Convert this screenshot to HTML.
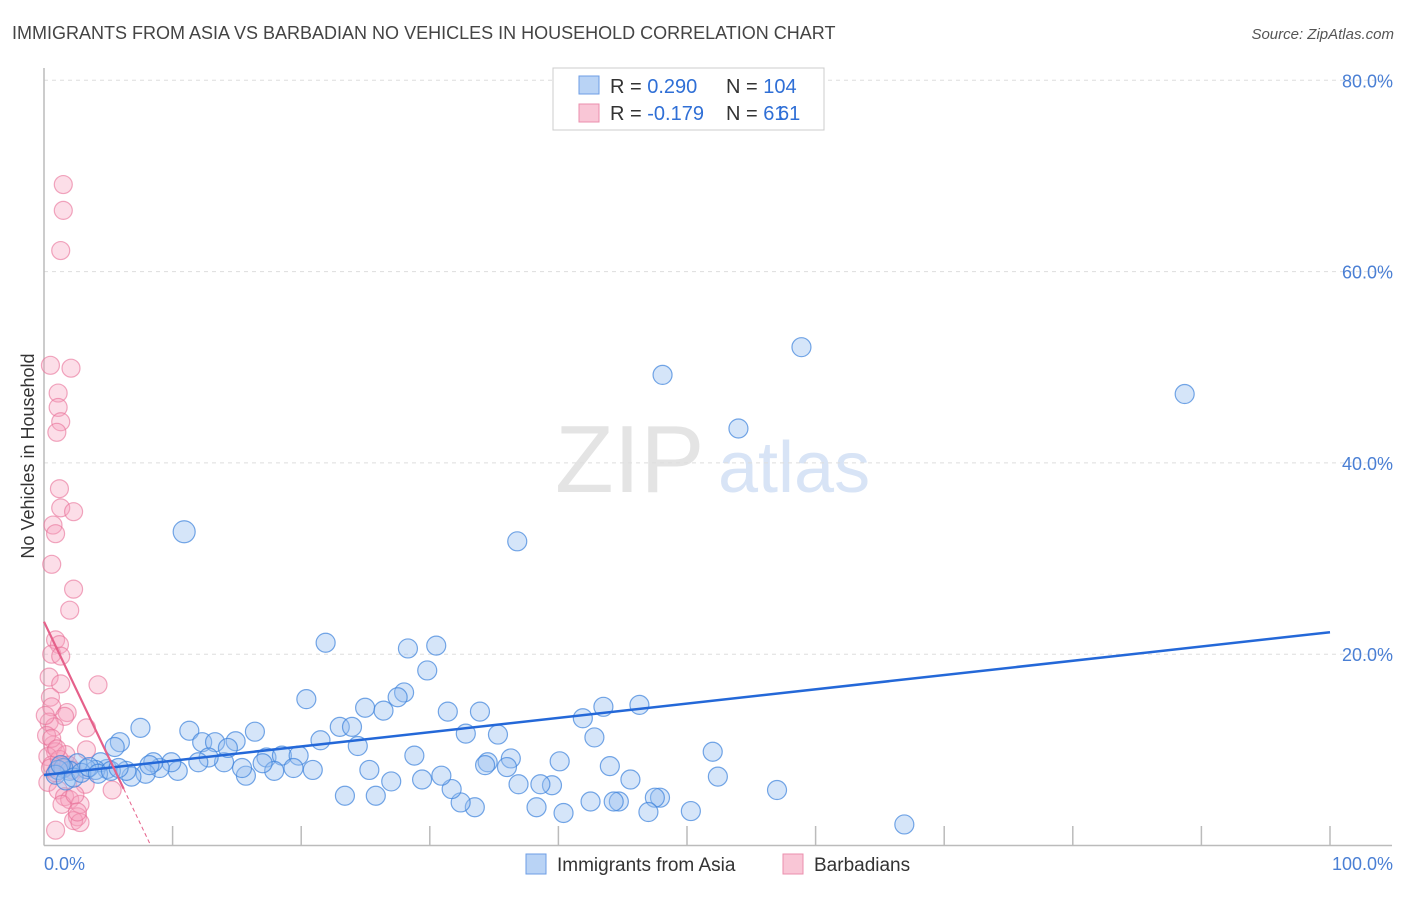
<!DOCTYPE html>
<html><head><meta charset="utf-8"><style>
body{margin:0;background:#fff;font-family:"Liberation Sans",sans-serif;}
svg text{font-family:"Liberation Sans",sans-serif;}
</style></head><body>
<svg id="chart" width="1406" height="892" xmlns="http://www.w3.org/2000/svg">
<text x="12" y="39" font-size="18" fill="#444">IMMIGRANTS FROM ASIA VS BARBADIAN NO VEHICLES IN HOUSEHOLD CORRELATION CHART</text>
<text x="1394" y="39" font-size="15" fill="#555" font-style="italic" text-anchor="end">Source: ZipAtlas.com</text>
<text transform="translate(34,456) rotate(-90)" font-size="18" fill="#333" text-anchor="middle">No Vehicles in Household</text>
<text x="555" y="492" font-size="96" fill="#e4e4e4" font-family="Liberation Serif">ZIP</text>
<text x="718" y="492" font-size="72" fill="#d8e4f6">atlas</text>
<g id="grid"></g><g id="axes"></g><g id="marks"></g><g id="lines"></g>
<g>
<rect x="553" y="68" width="271" height="62" fill="#fff" stroke="#ccc"/>
<rect x="579" y="76" width="20" height="18" fill="#b9d3f5" stroke="#6d9ee5"/>
<rect x="579" y="104" width="20" height="18" fill="#f9c6d6" stroke="#eb8fad"/>
<text x="610" y="93" font-size="20" fill="#333">R = <tspan fill="#2f6fd6">0.290</tspan></text>
<text x="726" y="93" font-size="20" fill="#333">N = <tspan fill="#2f6fd6">104</tspan></text>
<text x="610" y="120" font-size="20" fill="#333">R = <tspan fill="#2f6fd6">-0.179</tspan></text>
<text x="726" y="120" font-size="20" fill="#333">N = <tspan fill="#2f6fd6">  61</tspan></text>
<text x="778" y="120" font-size="20" fill="#2f6fd6">61</text>
</g>
<g>
<rect x="526" y="854" width="20" height="20" fill="#b9d3f5" stroke="#6d9ee5"/>
<text x="557" y="871" font-size="19" fill="#333">Immigrants from Asia</text>
<rect x="783" y="854" width="20" height="20" fill="#f9c6d6" stroke="#eb8fad"/>
<text x="814" y="871" font-size="19" fill="#333">Barbadians</text>
</g>
</svg>
<script>
const yTicks=[20,40,60,80];
const yTickLabels=["20.0%","40.0%","60.0%","80.0%"];
const xTickLabels=["0.0%","100.0%"];
const asiaX=[10.9,21.9,28.3,30.5,29.8,28,27.5,20.4,24.97,26.4,31.4,33.9,36.8,48.1,58.9,54.0,88.7,7.5,5.9,11.3,12.3,13.3,14.9,16.4,17.3,18.5,19.8,21.5,23.0,23.95,24.4,32.8,35.3,41.9,43.5,46.3,42.8,28.8,34.5,36.3,34.3,36.0,40.1,44.0,52.0,52.4,57.0,66.9,50.3,47.9,47.5,47.0,45.6,44.7,44.3,42.5,40.4,39.5,38.6,38.3,36.9,33.5,32.4,31.7,30.9,29.4,27.0,25.8,25.3,23.4,20.9,19.4,17.9,17.0,15.7,15.4,14.0,12.8,10.4,9.9,9.0,8.5,7.9,6.8,6.4,5.5,4.9,4.4,4.0,3.3,2.6,2.0,1.5,1.1,0.9,1.3,1.7,2.3,2.9,3.5,4.2,5.2,5.8,8.2,12.0,14.3];
const asiaY=[32.8,21.2,20.6,20.9,18.3,16.0,15.5,15.3,14.4,14.1,14.0,14.0,31.8,49.2,52.1,43.6,47.2,12.3,10.8,12.0,10.8,10.8,10.9,11.9,9.2,9.4,9.4,11.0,12.4,12.4,10.4,11.7,11.6,13.3,14.5,14.7,11.3,9.4,8.7,9.1,8.4,8.2,8.8,8.3,9.8,7.2,5.8,2.2,3.6,5.0,5.0,3.5,6.9,4.6,4.6,4.6,3.4,6.3,6.4,4.0,6.4,4.0,4.5,5.9,7.3,6.9,6.7,5.2,7.9,5.2,7.9,8.1,7.8,8.6,7.3,8.1,8.7,9.2,7.8,8.7,8.1,8.7,7.5,7.2,7.8,10.3,8.0,8.7,7.9,8.0,8.6,7.8,8.1,7.9,7.4,8.4,6.8,7.1,7.6,8.2,7.5,7.8,8.1,8.4,8.7,10.2];
const barbX=[1.5,1.5,1.3,0.5,2.1,1.1,1.1,1.3,1.0,1.2,1.3,2.3,0.7,0.9,0.6,2.3,2.0,0.9,1.2,0.6,1.3,0.4,1.3,4.2,0.5,0.6,1.8,1.6,0.4,0.8,3.3,0.7,0.9,3.3,0.3,0.6,1.5,2.2,0.3,1.1,1.6,2.0,3.2,2.8,1.4,2.6,2.3,2.8,0.9,5.3,1.7,0.5,0.9,0.2,1.2,1.9,0.1,0.6,1.0,2.4,2.6];
const barbY=[69.1,66.4,62.2,50.2,49.9,47.3,45.8,44.3,43.2,37.3,35.3,34.9,33.5,32.6,29.4,26.8,24.6,21.5,21.0,20.0,19.8,17.6,16.9,16.8,15.5,14.5,13.9,13.5,12.9,12.4,12.3,10.5,9.8,10.0,9.3,8.4,8.1,7.9,6.6,5.8,5.1,4.8,6.4,4.3,4.3,3.0,2.6,2.4,1.6,5.8,9.5,8.1,7.6,11.5,9.0,8.4,13.6,11.2,10.1,5.3,3.5];
const asiaFit=[7.37,22.3];
const barbFit=[23.4,-2.82];
const NS="http://www.w3.org/2000/svg";
function sx(v){return 44+v*12.86;}
function sy(v){return 845.5-v*9.565;}
function mk(tag,attrs,parent){const e=document.createElementNS(NS,tag);for(const k in attrs)e.setAttribute(k,attrs[k]);parent.appendChild(e);return e;}
const grid=document.getElementById('grid'),axes=document.getElementById('axes'),marks=document.getElementById('marks'),lines=document.getElementById('lines');
yTicks.forEach((t,i)=>{
 const l=mk('line',{x1:44,x2:1392,y1:sy(t),y2:sy(t),stroke:'#ddd','stroke-dasharray':'4,4'},grid);
 
 
 const tx=mk('text',{x:1393,y:sy(t)+7,'font-size':18,fill:'#4a7fd4','text-anchor':'end'},axes);
 tx.textContent=yTickLabels[i];
 
 
});
const ya=mk('line',{x1:44,x2:44,y1:68,y2:845.5,stroke:'#bbb','stroke-width':1.5},axes);


const xa=mk('line',{x1:44,x2:1392,y1:845.5,y2:845.5,stroke:'#bbb','stroke-width':1.5},axes);


for(let i=1;i<=10;i++){
 const t=mk('line',{x1:sx(i*10),x2:sx(i*10),y1:826,y2:845.5,stroke:'#bbb','stroke-width':1.5},axes);
 
 
}
const xl0=mk('text',{x:44,y:870,'font-size':18,fill:'#4a7fd4'},axes);xl0.textContent=xTickLabels[0];


const xl1=mk('text',{x:1393,y:870,'font-size':18,fill:'#4a7fd4','text-anchor':'end'},axes);xl1.textContent=xTickLabels[1];


barbX.forEach((x,i)=>{
 const c=mk('circle',{cx:sx(x),cy:sy(barbY[i]),r:9,fill:'rgba(246,160,188,0.35)',stroke:'rgba(232,110,150,0.6)','stroke-width':1.2},marks);
 
 
});
asiaX.forEach((x,i)=>{
 const c=mk('circle',{cx:sx(x),cy:sy(asiaY[i]),r:i===0?11:9.5,fill:'rgba(150,190,240,0.4)',stroke:'rgba(60,130,220,0.7)','stroke-width':1.2},marks);
 
 
});
const bl=mk('line',{x1:sx(0),y1:sy(asiaFit[0]),x2:sx(100),y2:sy(asiaFit[1]),stroke:'#2468d8','stroke-width':2.5},lines);


const pf=x=>barbFit[0]+barbFit[1]*x;
const pl=mk('line',{x1:sx(0),y1:sy(pf(0)),x2:sx(6.2),y2:sy(pf(6.2)),stroke:'#e5608a','stroke-width':2.2},lines);


const pd=mk('line',{x1:sx(6.2),y1:sy(pf(6.2)),x2:sx(8.3),y2:sy(pf(8.3)),stroke:'#e5608a','stroke-width':1,'stroke-dasharray':'4,3'},lines);


</script>
</body></html>
